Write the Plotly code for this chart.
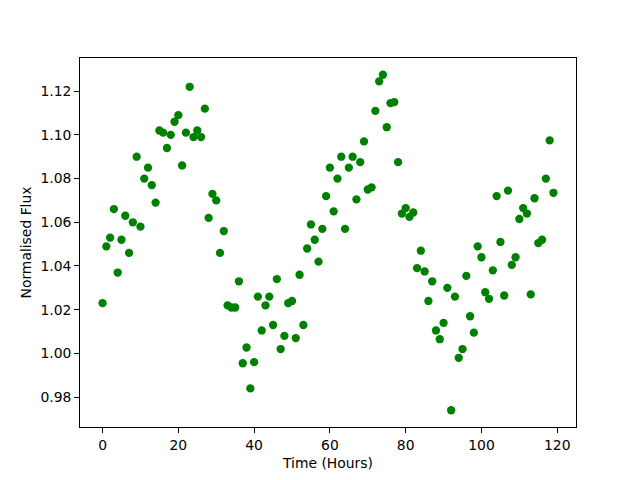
import plotly.graph_objects as go

hours = list(range(120))
flux = [
    1.023, 1.049, 1.053, 1.066, 1.037, 1.052, 1.063, 1.046, 1.060, 1.090,
    1.058, 1.080, 1.085, 1.077, 1.069, 1.102, 1.101, 1.094, 1.100, 1.106,
    1.109, 1.086, 1.101, 1.122, 1.099, 1.102, 1.099, 1.112, 1.062, 1.073,
    1.070, 1.046, 1.056, 1.022, 1.021, 1.021, 1.033, 0.9955, 1.0027, 0.984,
    0.996, 1.026, 1.0105, 1.022, 1.026, 1.013, 1.034, 1.002, 1.008, 1.023,
    1.024, 1.007, 1.036, 1.013, 1.048, 1.059, 1.052, 1.042, 1.057, 1.072,
    1.085, 1.065, 1.080, 1.090, 1.057, 1.085, 1.090, 1.0705, 1.0875, 1.097,
    1.075, 1.076, 1.111, 1.1245, 1.1275, 1.1035, 1.1145, 1.115, 1.0875, 1.064,
    1.0665, 1.0625, 1.0645, 1.039, 1.047, 1.0375, 1.024, 1.033, 1.0105, 1.0065,
    1.014, 1.030, 0.974, 1.026, 0.998, 1.002, 1.0355, 1.017, 1.0095, 1.049,
    1.044, 1.028, 1.025, 1.038, 1.072, 1.051, 1.0265, 1.0745, 1.0405, 1.044,
    1.0615, 1.0665, 1.064, 1.027, 1.071, 1.0505, 1.052, 1.080, 1.0975, 1.0735,
]
x_ticks = [0, 20, 40, 60, 80, 100, 120]
y_ticks = [0.98, 1.00, 1.02, 1.04, 1.06, 1.08, 1.10, 1.12]

fig = go.Figure()
fig.add_trace(go.Scatter(
    x=hours, y=flux, mode="markers",
    marker=dict(color="#008000", size=8.3, line=dict(width=0)),
    showlegend=False,
))

axis_common = dict(
    showline=True, linecolor="black", linewidth=1, mirror=True,
    ticks="outside", ticklen=4.9, tickwidth=1, tickcolor="black",
    showgrid=False, zeroline=False, automargin=False,
    tickfont=dict(family="DejaVu Sans", size=13.9, color="black"),
)

# page body has an 8px default margin, so shift the plot area up/left by 8px
fig.update_layout(
    width=640, height=480,
    margin=dict(l=72, r=72, t=50, b=61),
    paper_bgcolor="white", plot_bgcolor="white",
    font=dict(family="DejaVu Sans", size=13.9, color="black"),
    xaxis=dict(
        range=[-5.95, 124.95], tickvals=x_ticks,
        ticktext=[str(v) for v in x_ticks],
        title=dict(text="Time (Hours)", font=dict(size=13.9), standoff=6),
        **axis_common,
    ),
    yaxis=dict(
        range=[0.96633, 1.13517], tickvals=y_ticks,
        ticktext=[f"{v:.2f}" for v in y_ticks],
        title=dict(text="Normalised Flux", font=dict(size=13.9), standoff=5),
        **axis_common,
    ),
)

fig.write_html("out.html")
